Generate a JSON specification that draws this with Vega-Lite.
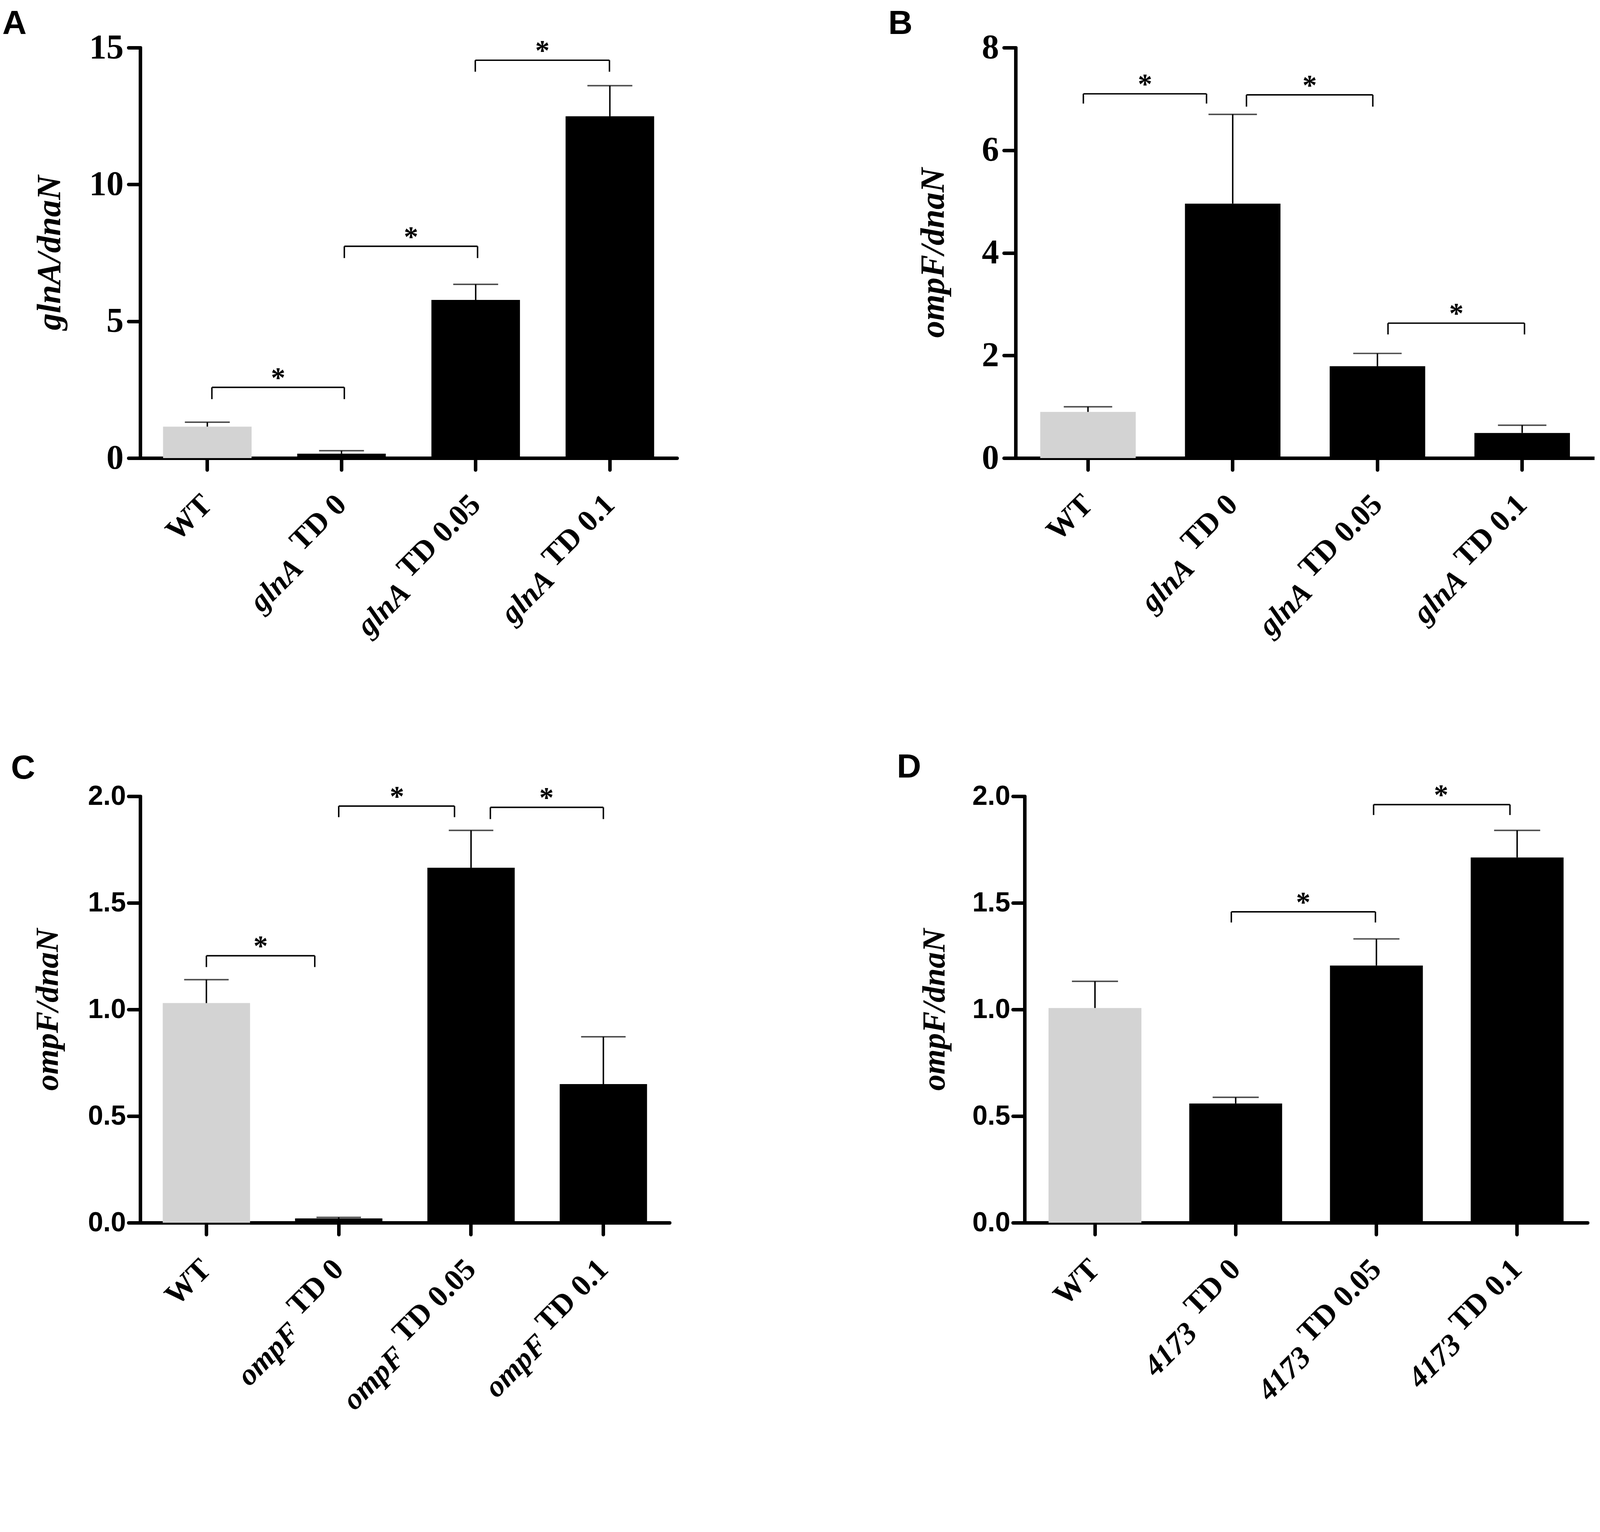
{
  "$schema": "https://vega.github.io/schema/vega-lite/v6.json",
  "background": "white",
  "padding": {"left": 6, "top": 18, "right": 0, "bottom": 0},
  "spacing": 279,
  "vconcat": [
    {
      "spacing": 541,
      "hconcat": [
        {
          "width": 1374,
          "height": 1051,
          "title": {"text": "A", "dx": -77, "font": "Liberation Sans", "fontSize": 86, "fontWeight": "bold", "color": "black", "anchor": "start", "offset": -27},
          "layer": [
            {
              "data": {"values": [
                {"g": "WT", "v": 1.15, "hi": 1.31},
                {"g": "glnA TD 0", "v": 0.16, "hi": 0.27},
                {"g": "glnA TD 0.05", "v": 5.78, "hi": 6.35},
                {"g": "glnA TD 0.1", "v": 12.49, "hi": 13.61}
              ]},
              "layer": [
                {
                  "mark": {"type": "bar"},
                  "encoding": {
                    "x": {"field": "g", "type": "nominal", "sort": null, "title": null,
                      "scale": {"paddingInner": 0.34, "paddingOuter": 0.17},
                      "axis": {"labelExpr": "datum.value === 'WT' ? 'WT' : slice(datum.value, 5)", "labelAngle": -45, "labelAlign": "right", "labelBaseline": "middle", "labelFont": "Liberation Serif", "labelFontWeight": "bold", "labelFontSize": 78, "labelPadding": 77}},
                    "y": {"field": "v", "type": "quantitative", "title": "glnA/dnaN",
                      "scale": {"domain": [0, 15], "nice": false},
                      "axis": {"values": [0, 5, 10, 15], "format": "d", "labelFont": "Liberation Serif", "labelFontWeight": "bold", "labelFontSize": 88, "labelPadding": 13, "titleFont": "Liberation Serif", "titleFontStyle": "italic", "titleFontWeight": "bold", "titleFontSize": 87, "titleAngle": -90, "titleX": -232, "titleY": 525, "titleAlign": "center", "titleBaseline": "middle"}},
                    "color": {"condition": {"test": "datum.g === 'WT'", "value": "#d3d3d3"}, "value": "black"}
                  }
                },
                {
                  "mark": {"type": "rule", "strokeWidth": 3.7, "color": "black"},
                  "encoding": {
                    "x": {"field": "g", "type": "nominal", "sort": null},
                    "y": {"field": "v", "type": "quantitative", "title": "glnA/dnaN"},
                    "y2": {"field": "hi"}
                  }
                },
                {
                  "mark": {"type": "tick", "size": 115, "thickness": 3.7, "color": "black"},
                  "encoding": {
                    "x": {"field": "g", "type": "nominal", "sort": null},
                    "y": {"field": "hi", "type": "quantitative", "title": "glnA/dnaN"}
                  }
                }
              ]
            },
            {
              "data": {"values": [
                {"x1": 0.534, "x2": 1.521, "xm": 1.028, "y": 2.585, "ylo": 2.154},
                {"x1": 1.521, "x2": 2.514, "xm": 2.018, "y": 7.74, "ylo": 7.31},
                {"x1": 2.497, "x2": 3.497, "xm": 2.997, "y": 14.54, "ylo": 14.12}
              ]},
              "layer": [
                {
                  "mark": {"type": "rule", "strokeWidth": 3.7, "color": "black"},
                  "encoding": {
                    "x": {"field": "x1", "type": "quantitative", "scale": {"domain": [0, 4], "nice": false}, "axis": null},
                    "x2": {"field": "x2"},
                    "y": {"field": "y", "type": "quantitative", "title": "glnA/dnaN"}
                  }
                },
                {
                  "mark": {"type": "rule", "strokeWidth": 3.7, "color": "black"},
                  "encoding": {
                    "x": {"field": "x1", "type": "quantitative", "axis": null},
                    "y": {"field": "y", "type": "quantitative", "title": "glnA/dnaN"},
                    "y2": {"field": "ylo"}
                  }
                },
                {
                  "mark": {"type": "rule", "strokeWidth": 3.7, "color": "black"},
                  "encoding": {
                    "x": {"field": "x2", "type": "quantitative", "axis": null},
                    "y": {"field": "y", "type": "quantitative", "title": "glnA/dnaN"},
                    "y2": {"field": "ylo"}
                  }
                },
                {
                  "mark": {"type": "text", "font": "Liberation Serif", "fontWeight": "bold", "fontSize": 74, "baseline": "alphabetic", "align": "center", "color": "black"},
                  "encoding": {
                    "x": {"field": "xm", "type": "quantitative", "axis": null},
                    "y": {"field": "y", "type": "quantitative", "title": "glnA/dnaN"},
                    "text": {"value": "*"}
                  }
                }
              ]
            },
            {
              "data": {"values": [
                {"g": "WT"}, {"g": "glnA TD 0"}, {"g": "glnA TD 0.05"}, {"g": "glnA TD 0.1"}
              ]},
              "mark": {"type": "point", "opacity": 0},
              "encoding": {
                "x": {"field": "g", "type": "nominal", "sort": null, "title": null,
                  "scale": {"paddingInner": 0.34, "paddingOuter": 0.17},
                  "axis": {"orient": "bottom", "domain": false, "tickOpacity": 0, "labelExpr": "datum.value === 'WT' ? '' : slice(datum.value, 0, 4)", "labelAngle": -45, "labelAlign": "right", "labelBaseline": "middle", "labelFont": "Liberation Serif", "labelFontStyle": "italic", "labelFontWeight": "bold", "labelFontSize": 78,
                    "labelPadding": {"condition": [{"test": "indexof(datum.value, '0.05') >= 0", "value": 302}, {"test": "indexof(datum.value, '0.1') >= 0", "value": 270}], "value": 240},
                    "labelOffset": {"condition": [{"test": "indexof(datum.value, '0.05') >= 0", "value": -180}, {"test": "indexof(datum.value, '0.1') >= 0", "value": -155}], "value": -111}}}
              }
            }
          ],
          "resolve": {"scale": {"x": "independent"}, "axis": {"x": "independent"}}
        },
        {
          "width": 1482,
          "height": 1051,
          "title": {"text": "B", "dx": -71, "font": "Liberation Sans", "fontSize": 86, "fontWeight": "bold", "color": "black", "anchor": "start", "offset": -27},
          "layer": [
            {
              "data": {"values": [
                {"g": "WT", "v": 0.90, "hi": 1.00},
                {"g": "glnA TD 0", "v": 4.96, "hi": 6.70},
                {"g": "glnA TD 0.05", "v": 1.79, "hi": 2.04},
                {"g": "glnA TD 0.1", "v": 0.49, "hi": 0.64}
              ]},
              "layer": [
                {
                  "mark": {"type": "bar"},
                  "encoding": {
                    "x": {"field": "g", "type": "nominal", "sort": null, "title": null,
                      "scale": {"paddingInner": 0.34, "paddingOuter": 0.17},
                      "axis": {"labelExpr": "datum.value === 'WT' ? 'WT' : slice(datum.value, 5)", "labelAngle": -45, "labelAlign": "right", "labelBaseline": "middle", "labelFont": "Liberation Serif", "labelFontWeight": "bold", "labelFontSize": 78, "labelPadding": 77}},
                    "y": {"field": "v", "type": "quantitative", "title": "ompF/dnaN",
                      "scale": {"domain": [0, 8], "nice": false},
                      "axis": {"values": [0, 2, 4, 6, 8], "format": "d", "labelFont": "Liberation Serif", "labelFontWeight": "bold", "labelFontSize": 88, "labelPadding": 13, "titleFont": "Liberation Serif", "titleFontStyle": "italic", "titleFontWeight": "bold", "titleFontSize": 87, "titleAngle": -90, "titleX": -211, "titleY": 525, "titleAlign": "center", "titleBaseline": "middle"}},
                    "color": {"condition": {"test": "datum.g === 'WT'", "value": "#d3d3d3"}, "value": "black"}
                  }
                },
                {
                  "mark": {"type": "rule", "strokeWidth": 3.7, "color": "black"},
                  "encoding": {
                    "x": {"field": "g", "type": "nominal", "sort": null},
                    "y": {"field": "v", "type": "quantitative", "title": "ompF/dnaN"},
                    "y2": {"field": "hi"}
                  }
                },
                {
                  "mark": {"type": "tick", "size": 124, "thickness": 3.7, "color": "black"},
                  "encoding": {
                    "x": {"field": "g", "type": "nominal", "sort": null},
                    "y": {"field": "hi", "type": "quantitative", "title": "ompF/dnaN"}
                  }
                }
              ]
            },
            {
              "data": {"values": [
                {"x1": 0.468, "x2": 1.319, "xm": 0.894, "y": 7.10, "ylo": 6.91},
                {"x1": 1.595, "x2": 2.468, "xm": 2.032, "y": 7.08, "ylo": 6.85},
                {"x1": 2.573, "x2": 3.516, "xm": 3.045, "y": 2.63, "ylo": 2.41}
              ]},
              "layer": [
                {
                  "mark": {"type": "rule", "strokeWidth": 3.7, "color": "black"},
                  "encoding": {
                    "x": {"field": "x1", "type": "quantitative", "scale": {"domain": [0, 4], "nice": false}, "axis": null},
                    "x2": {"field": "x2"},
                    "y": {"field": "y", "type": "quantitative", "title": "ompF/dnaN"}
                  }
                },
                {
                  "mark": {"type": "rule", "strokeWidth": 3.7, "color": "black"},
                  "encoding": {
                    "x": {"field": "x1", "type": "quantitative", "axis": null},
                    "y": {"field": "y", "type": "quantitative", "title": "ompF/dnaN"},
                    "y2": {"field": "ylo"}
                  }
                },
                {
                  "mark": {"type": "rule", "strokeWidth": 3.7, "color": "black"},
                  "encoding": {
                    "x": {"field": "x2", "type": "quantitative", "axis": null},
                    "y": {"field": "y", "type": "quantitative", "title": "ompF/dnaN"},
                    "y2": {"field": "ylo"}
                  }
                },
                {
                  "mark": {"type": "text", "font": "Liberation Serif", "fontWeight": "bold", "fontSize": 74, "baseline": "alphabetic", "align": "center", "color": "black"},
                  "encoding": {
                    "x": {"field": "xm", "type": "quantitative", "axis": null},
                    "y": {"field": "y", "type": "quantitative", "title": "ompF/dnaN"},
                    "text": {"value": "*"}
                  }
                }
              ]
            },
            {
              "data": {"values": [
                {"g": "WT"}, {"g": "glnA TD 0"}, {"g": "glnA TD 0.05"}, {"g": "glnA TD 0.1"}
              ]},
              "mark": {"type": "point", "opacity": 0},
              "encoding": {
                "x": {"field": "g", "type": "nominal", "sort": null, "title": null,
                  "scale": {"paddingInner": 0.34, "paddingOuter": 0.17},
                  "axis": {"orient": "bottom", "domain": false, "tickOpacity": 0, "labelExpr": "datum.value === 'WT' ? '' : slice(datum.value, 0, 4)", "labelAngle": -45, "labelAlign": "right", "labelBaseline": "middle", "labelFont": "Liberation Serif", "labelFontStyle": "italic", "labelFontWeight": "bold", "labelFontSize": 78,
                    "labelPadding": {"condition": [{"test": "indexof(datum.value, '0.05') >= 0", "value": 302}, {"test": "indexof(datum.value, '0.1') >= 0", "value": 270}], "value": 240},
                    "labelOffset": {"condition": [{"test": "indexof(datum.value, '0.05') >= 0", "value": -180}, {"test": "indexof(datum.value, '0.1') >= 0", "value": -155}], "value": -111}}}
              }
            }
          ],
          "resolve": {"scale": {"x": "independent"}, "axis": {"x": "independent"}}
        }
      ]
    },
    {
      "spacing": 582,
      "hconcat": [
        {
          "width": 1355,
          "height": 1092,
          "title": {"text": "C", "dx": -53, "font": "Liberation Sans", "fontSize": 86, "fontWeight": "bold", "color": "black", "anchor": "start", "offset": -8},
          "layer": [
            {
              "data": {"values": [
                {"g": "WT", "v": 1.03, "hi": 1.14},
                {"g": "ompF TD 0", "v": 0.02, "hi": 0.025},
                {"g": "ompF TD 0.05", "v": 1.665, "hi": 1.84},
                {"g": "ompF TD 0.1", "v": 0.65, "hi": 0.872}
              ]},
              "layer": [
                {
                  "mark": {"type": "bar"},
                  "encoding": {
                    "x": {"field": "g", "type": "nominal", "sort": null, "title": null,
                      "scale": {"paddingInner": 0.34, "paddingOuter": 0.17},
                      "axis": {"labelExpr": "datum.value === 'WT' ? 'WT' : slice(datum.value, 5)", "labelAngle": -45, "labelAlign": "right", "labelBaseline": "middle", "labelFont": "Liberation Serif", "labelFontWeight": "bold", "labelFontSize": 78, "labelPadding": 77}},
                    "y": {"field": "v", "type": "quantitative", "title": "ompF/dnaN",
                      "scale": {"domain": [0, 2], "nice": false},
                      "axis": {"values": [0, 0.5, 1, 1.5, 2], "format": ".1f", "labelFont": "Liberation Sans", "labelFontWeight": "bold", "labelFontSize": 70, "labelPadding": 7, "titleFont": "Liberation Serif", "titleFontStyle": "italic", "titleFontWeight": "bold", "titleFontSize": 83, "titleAngle": -90, "titleX": -237, "titleY": 546, "titleAlign": "center", "titleBaseline": "middle"}},
                    "color": {"condition": {"test": "datum.g === 'WT'", "value": "#d3d3d3"}, "value": "black"}
                  }
                },
                {
                  "mark": {"type": "rule", "strokeWidth": 3.7, "color": "black"},
                  "encoding": {
                    "x": {"field": "g", "type": "nominal", "sort": null},
                    "y": {"field": "v", "type": "quantitative", "title": "ompF/dnaN"},
                    "y2": {"field": "hi"}
                  }
                },
                {
                  "mark": {"type": "tick", "size": 114, "thickness": 3.7, "color": "black"},
                  "encoding": {
                    "x": {"field": "g", "type": "nominal", "sort": null},
                    "y": {"field": "hi", "type": "quantitative", "title": "ompF/dnaN"}
                  }
                }
              ]
            },
            {
              "data": {"values": [
                {"x1": 0.5, "x2": 1.319, "xm": 0.91, "y": 1.252, "ylo": 1.199},
                {"x1": 1.5, "x2": 2.375, "xm": 1.94, "y": 1.954, "ylo": 1.902},
                {"x1": 2.646, "x2": 3.5, "xm": 3.07, "y": 1.948, "ylo": 1.893}
              ]},
              "layer": [
                {
                  "mark": {"type": "rule", "strokeWidth": 3.7, "color": "black"},
                  "encoding": {
                    "x": {"field": "x1", "type": "quantitative", "scale": {"domain": [0, 4], "nice": false}, "axis": null},
                    "x2": {"field": "x2"},
                    "y": {"field": "y", "type": "quantitative", "title": "ompF/dnaN"}
                  }
                },
                {
                  "mark": {"type": "rule", "strokeWidth": 3.7, "color": "black"},
                  "encoding": {
                    "x": {"field": "x1", "type": "quantitative", "axis": null},
                    "y": {"field": "y", "type": "quantitative", "title": "ompF/dnaN"},
                    "y2": {"field": "ylo"}
                  }
                },
                {
                  "mark": {"type": "rule", "strokeWidth": 3.7, "color": "black"},
                  "encoding": {
                    "x": {"field": "x2", "type": "quantitative", "axis": null},
                    "y": {"field": "y", "type": "quantitative", "title": "ompF/dnaN"},
                    "y2": {"field": "ylo"}
                  }
                },
                {
                  "mark": {"type": "text", "font": "Liberation Serif", "fontWeight": "bold", "fontSize": 74, "baseline": "alphabetic", "align": "center", "color": "black"},
                  "encoding": {
                    "x": {"field": "xm", "type": "quantitative", "axis": null},
                    "y": {"field": "y", "type": "quantitative", "title": "ompF/dnaN"},
                    "text": {"value": "*"}
                  }
                }
              ]
            },
            {
              "data": {"values": [
                {"g": "WT"}, {"g": "ompF TD 0"}, {"g": "ompF TD 0.05"}, {"g": "ompF TD 0.1"}
              ]},
              "mark": {"type": "point", "opacity": 0},
              "encoding": {
                "x": {"field": "g", "type": "nominal", "sort": null, "title": null,
                  "scale": {"paddingInner": 0.34, "paddingOuter": 0.17},
                  "axis": {"orient": "bottom", "domain": false, "tickOpacity": 0, "labelExpr": "datum.value === 'WT' ? '' : slice(datum.value, 0, 4)", "labelAngle": -45, "labelAlign": "right", "labelBaseline": "middle", "labelFont": "Liberation Serif", "labelFontStyle": "italic", "labelFontWeight": "bold", "labelFontSize": 78,
                    "labelPadding": {"condition": [{"test": "indexof(datum.value, '0.05') >= 0", "value": 302}, {"test": "indexof(datum.value, '0.1') >= 0", "value": 270}], "value": 240},
                    "labelOffset": {"condition": [{"test": "indexof(datum.value, '0.05') >= 0", "value": -180}, {"test": "indexof(datum.value, '0.1') >= 0", "value": -155}], "value": -111}}}
              }
            }
          ],
          "resolve": {"scale": {"x": "independent"}, "axis": {"x": "independent"}}
        },
        {
          "width": 1441,
          "height": 1092,
          "title": {"text": "D", "dx": -55, "font": "Liberation Sans", "fontSize": 86, "fontWeight": "bold", "color": "black", "anchor": "start", "offset": -8},
          "layer": [
            {
              "data": {"values": [
                {"g": "WT", "v": 1.007, "hi": 1.132},
                {"g": "4173 TD 0", "v": 0.559, "hi": 0.588},
                {"g": "4173 TD 0.05", "v": 1.206, "hi": 1.331},
                {"g": "4173 TD 0.1", "v": 1.713, "hi": 1.84}
              ]},
              "layer": [
                {
                  "mark": {"type": "bar"},
                  "encoding": {
                    "x": {"field": "g", "type": "nominal", "sort": null, "title": null,
                      "scale": {"paddingInner": 0.34, "paddingOuter": 0.17},
                      "axis": {"labelExpr": "datum.value === 'WT' ? 'WT' : slice(datum.value, 5)", "labelAngle": -45, "labelAlign": "right", "labelBaseline": "middle", "labelFont": "Liberation Serif", "labelFontWeight": "bold", "labelFontSize": 78, "labelPadding": 77}},
                    "y": {"field": "v", "type": "quantitative", "title": "ompF/dnaN",
                      "scale": {"domain": [0, 2], "nice": false},
                      "axis": {"values": [0, 0.5, 1, 1.5, 2], "format": ".1f", "labelFont": "Liberation Sans", "labelFontWeight": "bold", "labelFontSize": 70, "labelPadding": 7, "titleFont": "Liberation Serif", "titleFontStyle": "italic", "titleFontWeight": "bold", "titleFontSize": 83, "titleAngle": -90, "titleX": -231, "titleY": 546, "titleAlign": "center", "titleBaseline": "middle"}},
                    "color": {"condition": {"test": "datum.g === 'WT'", "value": "#d3d3d3"}, "value": "black"}
                  }
                },
                {
                  "mark": {"type": "rule", "strokeWidth": 3.7, "color": "black"},
                  "encoding": {
                    "x": {"field": "g", "type": "nominal", "sort": null},
                    "y": {"field": "v", "type": "quantitative", "title": "ompF/dnaN"},
                    "y2": {"field": "hi"}
                  }
                },
                {
                  "mark": {"type": "tick", "size": 118, "thickness": 3.7, "color": "black"},
                  "encoding": {
                    "x": {"field": "g", "type": "nominal", "sort": null},
                    "y": {"field": "hi", "type": "quantitative", "title": "ompF/dnaN"}
                  }
                }
              ]
            },
            {
              "data": {"values": [
                {"x1": 1.469, "x2": 2.493, "xm": 1.98, "y": 1.458, "ylo": 1.408},
                {"x1": 2.48, "x2": 3.449, "xm": 2.96, "y": 1.961, "ylo": 1.912}
              ]},
              "layer": [
                {
                  "mark": {"type": "rule", "strokeWidth": 3.7, "color": "black"},
                  "encoding": {
                    "x": {"field": "x1", "type": "quantitative", "scale": {"domain": [0, 4], "nice": false}, "axis": null},
                    "x2": {"field": "x2"},
                    "y": {"field": "y", "type": "quantitative", "title": "ompF/dnaN"}
                  }
                },
                {
                  "mark": {"type": "rule", "strokeWidth": 3.7, "color": "black"},
                  "encoding": {
                    "x": {"field": "x1", "type": "quantitative", "axis": null},
                    "y": {"field": "y", "type": "quantitative", "title": "ompF/dnaN"},
                    "y2": {"field": "ylo"}
                  }
                },
                {
                  "mark": {"type": "rule", "strokeWidth": 3.7, "color": "black"},
                  "encoding": {
                    "x": {"field": "x2", "type": "quantitative", "axis": null},
                    "y": {"field": "y", "type": "quantitative", "title": "ompF/dnaN"},
                    "y2": {"field": "ylo"}
                  }
                },
                {
                  "mark": {"type": "text", "font": "Liberation Serif", "fontWeight": "bold", "fontSize": 74, "baseline": "alphabetic", "align": "center", "color": "black"},
                  "encoding": {
                    "x": {"field": "xm", "type": "quantitative", "axis": null},
                    "y": {"field": "y", "type": "quantitative", "title": "ompF/dnaN"},
                    "text": {"value": "*"}
                  }
                }
              ]
            },
            {
              "data": {"values": [
                {"g": "WT"}, {"g": "4173 TD 0"}, {"g": "4173 TD 0.05"}, {"g": "4173 TD 0.1"}
              ]},
              "mark": {"type": "point", "opacity": 0},
              "encoding": {
                "x": {"field": "g", "type": "nominal", "sort": null, "title": null,
                  "scale": {"paddingInner": 0.34, "paddingOuter": 0.17},
                  "axis": {"orient": "bottom", "domain": false, "tickOpacity": 0, "labelExpr": "datum.value === 'WT' ? '' : slice(datum.value, 0, 4)", "labelAngle": -45, "labelAlign": "right", "labelBaseline": "middle", "labelFont": "Liberation Serif", "labelFontStyle": "italic", "labelFontWeight": "bold", "labelFontSize": 78,
                    "labelPadding": {"condition": [{"test": "indexof(datum.value, '0.05') >= 0", "value": 302}, {"test": "indexof(datum.value, '0.1') >= 0", "value": 270}], "value": 240},
                    "labelOffset": {"condition": [{"test": "indexof(datum.value, '0.05') >= 0", "value": -180}, {"test": "indexof(datum.value, '0.1') >= 0", "value": -155}], "value": -111}}}
              }
            }
          ],
          "resolve": {"scale": {"x": "independent"}, "axis": {"x": "independent"}}
        }
      ]
    }
  ],
  "config": {
    "view": {"stroke": null},
    "axis": {"domainColor": "black", "domainWidth": 9, "domainCap": "round", "tickColor": "black", "tickWidth": 9, "tickSize": 30, "tickCap": "round", "labelColor": "black", "titleColor": "black", "grid": false, "labelLimit": 2000, "labelOverlap": false, "labelFlush": false}
  }
}
